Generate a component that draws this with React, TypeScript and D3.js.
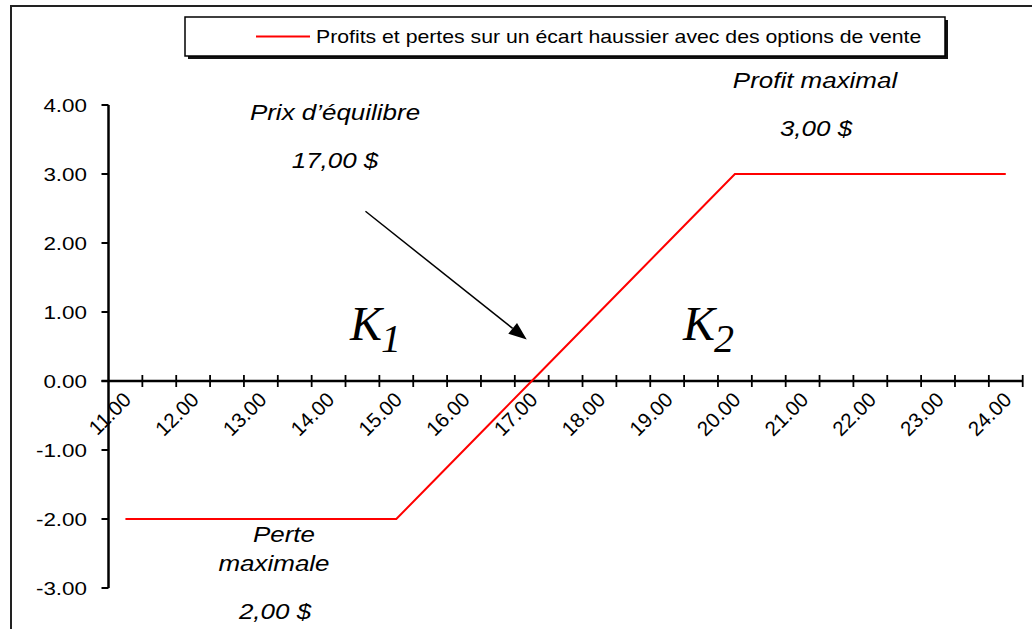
import React from 'react';
import * as d3 from 'd3';

// prix du sous-jacent (catégories de l'axe X)
const prices = [
  '11.00', '11.50', '12.00', '12.50', '13.00', '13.50', '14.00', '14.50', '15.00',
  '15.50', '16.00', '16.50', '17.00', '17.50', '18.00', '18.50', '19.00', '19.50',
  '20.00', '20.50', '21.00', '21.50', '22.00', '22.50', '23.00', '23.50', '24.00',
];
// profits et pertes
const pnl = [
  -2, -2, -2, -2, -2, -2, -2, -2, -2,
  -1.5, -1, -0.5, 0, 0.5, 1, 1.5, 2, 2.5,
  3, 3, 3, 3, 3, 3, 3, 3, 3,
];
const xTickLabels = [
  '11.00', '12.00', '13.00', '14.00', '15.00', '16.00', '17.00',
  '18.00', '19.00', '20.00', '21.00', '22.00', '23.00', '24.00',
];
const yTicks = [-3, -2, -1, 0, 1, 2, 3, 4];
const legendLabel = 'Profits et pertes sur un écart haussier avec des options de vente';

const W = 1032;
const H = 629;
const sans = 'Liberation Sans, Arial, sans-serif';
const serif = 'Liberation Serif, Times New Roman, serif';
const SX = 1.18; // horizontal stretch of the original's text

function Label({ x, y, anchor = 'middle', size = 22, italic = false, children }: any) {
  return (
    <text transform={`translate(${x},${y}) scale(${SX},1)`} textAnchor={anchor}
      fontFamily={sans} fontSize={size} fontStyle={italic ? 'italic' : 'normal'} fill="#000">
      {children}
    </text>
  );
}

function Strike({ x, y, sub }: { x: number; y: number; sub: string }) {
  return (
    <g fontFamily={serif} fontStyle="italic" fill="#000">
      <text x={x} y={y} fontSize={48}>K</text>
      <text x={x + 31} y={y + 12} fontSize={40}>{sub}</text>
    </g>
  );
}

export default function App() {
  const x = d3.scaleBand<string>().domain(prices).range([108.5, 1022.7]).padding(0);
  const y = d3.scaleLinear().domain([-3, 4]).range([588, 105]);
  const bw = x.bandwidth();
  const cx = (p: string) => (x(p) as number) + bw / 2;

  const line = d3.line<number>()
    .x((_, i) => cx(prices[i]))
    .y((d) => y(d));

  const y0 = y(0);
  const left = 108.5;

  // arrow (prix d'équilibre), in data coordinates
  const ax0 = cx('14.50') + 3, ay0 = y(2.46);
  const ax1 = cx('17.00') - 5, ay1 = y(0.6);
  const len = Math.hypot(ax1 - ax0, ay1 - ay0);
  const ux = (ax1 - ax0) / len, uy = (ay1 - ay0) / len;
  const hl = 18, hw = 7;
  const bx = ax1 - ux * hl, by = ay1 - uy * hl;
  const head = [
    [ax1, ay1],
    [bx - uy * hw, by + ux * hw],
    [bx + uy * hw, by - ux * hw],
  ].map((p) => p.join(',')).join(' ');

  const boundaries = prices.map((p) => (x(p) as number) + bw);

  return (
    <svg width={W} height={H} style={{ position: 'absolute', left: 0, top: 0, background: '#fff' }}>
      {/* outer frame */}
      <rect x={11} y={6} width={W + 20} height={H + 20} fill="#fff" stroke="#222" strokeWidth={2} />

      {/* legend */}
      <rect x={188} y={20} width={760} height={39} fill="#111" />
      <rect x={185} y={17} width={760} height={39} fill="#fff" stroke="#000" strokeWidth={1.5} />
      <line x1={256} x2={310} y1={36.5} y2={36.5} stroke="#ff0000" strokeWidth={2} />
      <Label x={316} y={43} anchor="start" size={18}>{legendLabel}</Label>

      {/* y axis */}
      <line x1={left} x2={left} y1={y(4)} y2={y(-3)} stroke="#000" strokeWidth={2.5} />
      {yTicks.map((t) => (
        <g key={t}>
          <line x1={left - 7} x2={left} y1={y(t)} y2={y(t)} stroke="#000" strokeWidth={2} />
          <Label x={87} y={y(t) + 7} anchor="end" size={19}>{t.toFixed(2)}</Label>
        </g>
      ))}

      {/* x axis */}
      <line x1={left - 7} x2={boundaries[boundaries.length - 1]} y1={y0} y2={y0} stroke="#000" strokeWidth={2.5} />
      {boundaries.map((b, i) => (
        <line key={i} x1={b} x2={b} y1={y0 - 6} y2={y0 + 6} stroke="#000" strokeWidth={1.8} />
      ))}
      {xTickLabels.map((l) => {
        const tx = cx(l) + 7;
        const ty = 401;
        return (
          <text key={l} x={tx} y={ty} transform={`rotate(-45 ${tx} ${ty})`} textAnchor="end"
            fontFamily={sans} fontSize={20.5} fill="#000">{l}</text>
        );
      })}

      {/* series */}
      <path d={line(pnl) || ''} fill="none" stroke="#ff0000" strokeWidth={2} />

      {/* arrow */}
      <line x1={ax0} y1={ay0} x2={bx} y2={by} stroke="#000" strokeWidth={1.5} />
      <polygon points={head} fill="#000" />

      {/* annotations */}
      <Label x={335} y={120} italic>Prix d’équilibre</Label>
      <Label x={335} y={168} italic>17,00 $</Label>
      <Label x={815} y={88} italic>Profit maximal</Label>
      <Label x={816} y={136} italic>3,00 $</Label>
      <Label x={284} y={542} italic>Perte</Label>
      <Label x={274} y={571} italic>maximale</Label>
      <Label x={275} y={619} italic>2,00 $</Label>

      <Strike x={350} y={340} sub="1" />
      <Strike x={683} y={340} sub="2" />
    </svg>
  );
}
